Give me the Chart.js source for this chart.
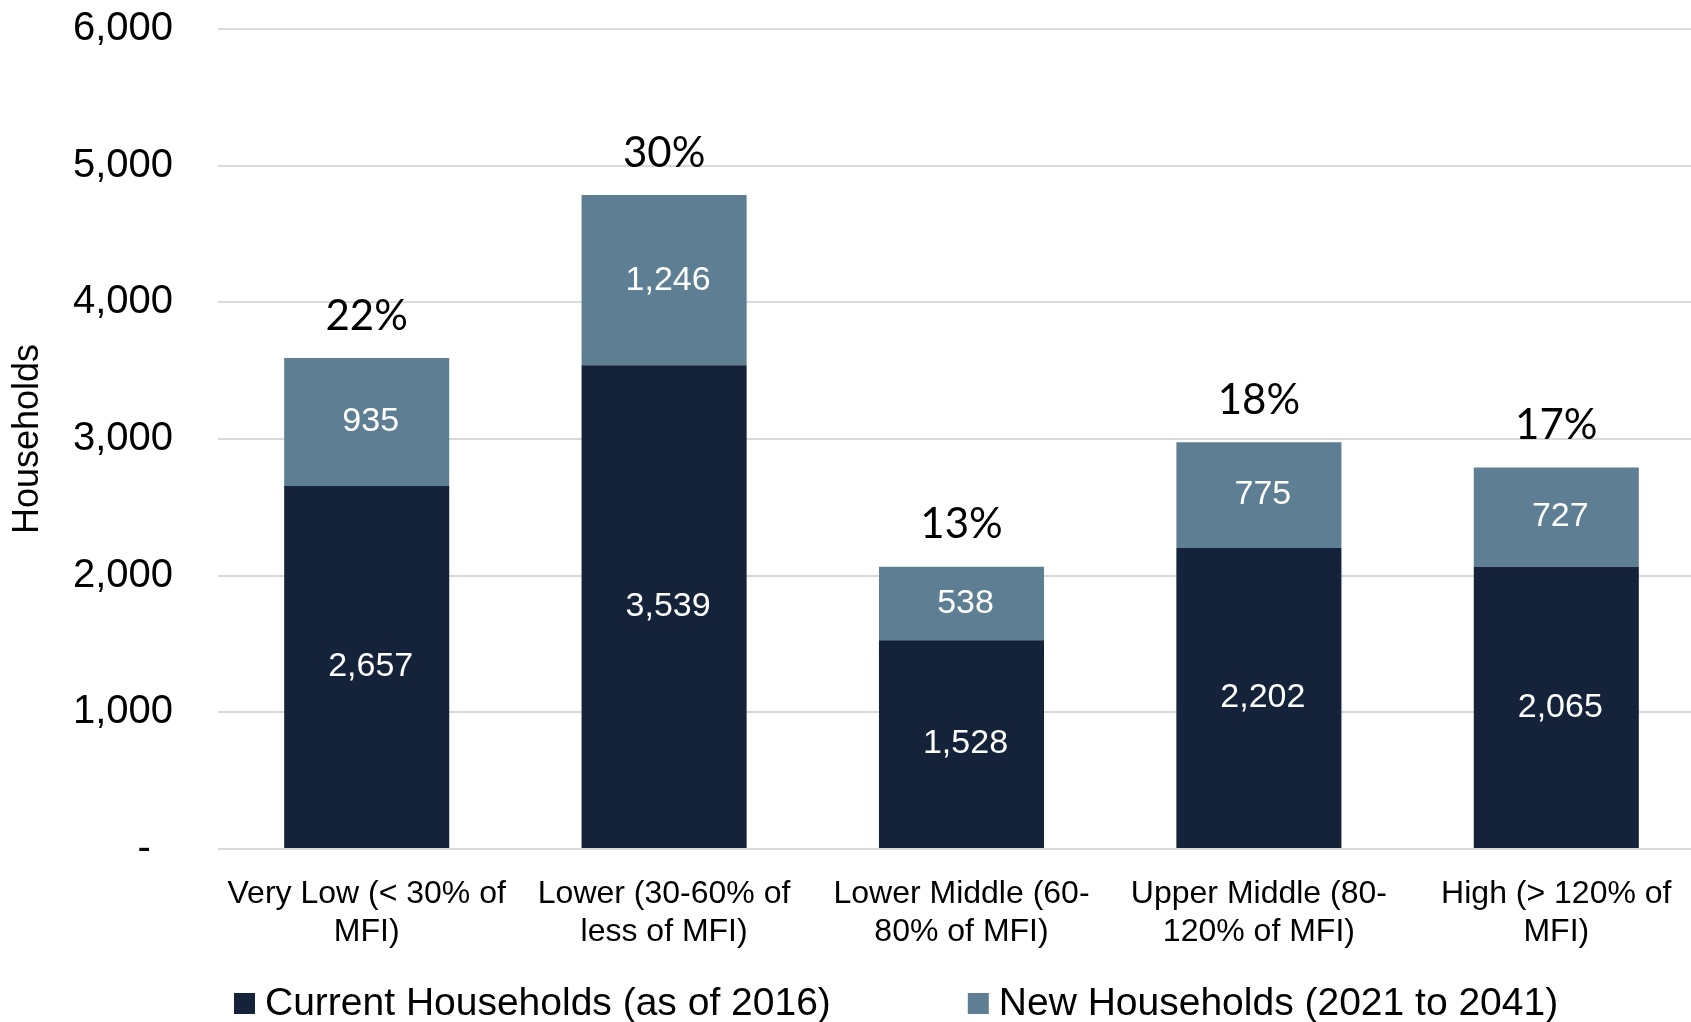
<!DOCTYPE html>
<html>
<head>
<meta charset="utf-8">
<script src="https://cdn.jsdelivr.net/npm/chart.js@4/dist/chart.umd.min.js"></script>
<style>
    html, body { margin: 0; padding: 0; background: #fff; overflow: hidden; }
    #wrap { width: 1705px; height: 1022px; }
</style>
</head>
<body>
<div id="wrap"><canvas id="chart" width="1705" height="1022"></canvas></div>
<script>
// dados
const categories = [
    ['Very Low (< 30% of', 'MFI)'],
    ['Lower (30-60% of', 'less of MFI)'],
    ['Lower Middle (60-', '80% of MFI)'],
    ['Upper Middle (80-', '120% of MFI)'],
    ['High (> 120% of', 'MFI)']
];
const currentHouseholds = [2657, 3539, 1528, 2202, 2065];
const newHouseholds = [935, 1246, 538, 775, 727];
const shareLabels = ['22%', '30%', '13%', '18%', '17%'];
const yTicks = [0, 1000, 2000, 3000, 4000, 5000, 6000];

const DARK = '#14223a';
const SLATE = '#5e7f93';
const SANS = '"Liberation Sans", Arial, sans-serif';

// rótulos dentro das barras + percentuais no topo
const barLabels = {
    id: 'barLabels',
    afterDatasetsDraw(chart) {
        const ctx = chart.ctx;
        ctx.save();
        ctx.textAlign = 'center';
        ctx.textBaseline = 'middle';
        chart.data.datasets.forEach((ds, di) => {
            const meta = chart.getDatasetMeta(di);
            meta.data.forEach((bar, i) => {
                ctx.fillStyle = '#fff';
                ctx.font = '34px ' + SANS;
                ctx.fillText(ds.data[i].toLocaleString('en-US'), bar.x + 4, (bar.y + bar.base) / 2);
                if (di === chart.data.datasets.length - 1) {
                    ctx.fillStyle = '#000';
                    ctx.font = '42px Lato, "Noto Sans", sans-serif';
                    ctx.fillText(shareLabels[i], bar.x, bar.y - 42);
                }
            });
        });
        ctx.restore();
    }
};

// legenda desenhada à mão (espaçamento do original)
const bottomLegend = {
    id: 'bottomLegend',
    afterDraw(chart) {
        const ctx = chart.ctx;
        ctx.save();
        ctx.font = '39px ' + SANS;
        ctx.textBaseline = 'middle';
        ctx.textAlign = 'left';
        let x = 234;
        const y = 1004;
        chart.data.datasets.forEach(ds => {
            ctx.fillStyle = ds.backgroundColor;
            ctx.fillRect(x, y - 11, 21, 21);
            ctx.fillStyle = '#000';
            ctx.fillText(ds.label, x + 31, y);
            x += 31 + ctx.measureText(ds.label).width + 137;
        });
        ctx.restore();
    }
};

new Chart(document.getElementById('chart').getContext('2d'), {
    type: 'bar',
    data: {
        labels: categories,
        datasets: [
            { label: 'Current Households (as of 2016)', data: currentHouseholds, backgroundColor: DARK },
            { label: 'New Households (2021 to 2041)', data: newHouseholds, backgroundColor: SLATE }
        ]
    },
    options: {
        responsive: false,
        animation: false,
        devicePixelRatio: 1,
        layout: { padding: { top: 29, right: 0, bottom: 70, left: 0 } },
        datasets: { bar: { categoryPercentage: 1, barPercentage: 0.555 } },
        plugins: { legend: { display: false }, tooltip: { enabled: false } },
        scales: {
            x: {
                stacked: true,
                grid: { display: false },
                border: { display: false },
                ticks: { color: '#000', font: { size: 32, family: SANS }, padding: 18, maxRotation: 0, autoSkip: false },
                afterFit: s => { s.height = 103; s.paddingLeft = 0; s.paddingRight = 0; }
            },
            y: {
                stacked: true,
                min: 0,
                max: 6000,
                afterBuildTicks: s => { s.ticks = yTicks.map(v => ({ value: v })); },
                grid: { color: '#d9d9d9', lineWidth: 2, drawTicks: false },
                border: { display: false },
                ticks: {
                    color: '#000',
                    font: { size: 40, family: SANS },
                    padding: 45,
                    callback: v => v === 0 ? '-  ' : v.toLocaleString('en-US')
                },
                title: { display: true, text: 'Households', color: '#000', font: { size: 36, family: SANS }, padding: { top: 6, bottom: 0 } },
                afterFit: s => { s.width = 218; s.paddingTop = 0; s.paddingBottom = 0; }
            }
        }
    },
    plugins: [barLabels, bottomLegend]
});
</script>
</body>
</html>
